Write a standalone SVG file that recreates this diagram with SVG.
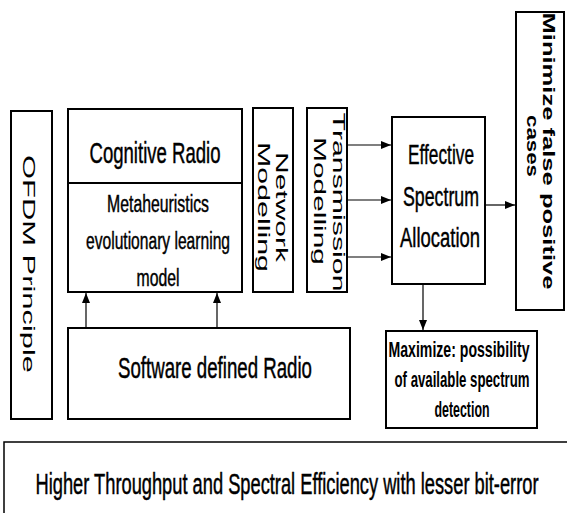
<svg xmlns="http://www.w3.org/2000/svg" width="567" height="513" viewBox="0 0 567 513">
<style>
.box{fill:#fff;stroke:#000;stroke-width:2}
.t{font-family:"Liberation Sans",Arial,sans-serif;fill:#000;text-anchor:middle}
.n{stroke:#000;stroke-width:0.3}
.b{font-weight:bold}
.c{stroke:#000;stroke-width:1.2;fill:none;marker-end:url(#ah)}
</style>
<defs>
<marker id="ah" markerUnits="userSpaceOnUse" markerWidth="10" markerHeight="8" refX="10" refY="4" orient="auto">
<path d="M0,0 L10,4 L0,8 Z" fill="#000"/>
</marker>
</defs>
<rect width="567" height="513" fill="#fff"/>
<g id="ofdm">
<rect class="box" x="11" y="111" width="41" height="308"/>
<text class="t" font-size="17" textLength="218" lengthAdjust="spacingAndGlyphs" transform="translate(23,264) rotate(90)">OFDM Principle</text>
</g>
<g id="cognitive">
<rect class="box" x="68" y="109" width="174" height="183"/>
<line x1="68" y1="183" x2="242" y2="183" stroke="#000" stroke-width="2"/>
<text class="t n" font-size="18.6" textLength="131" lengthAdjust="spacingAndGlyphs" transform="translate(155,163) scale(1,1.6)">Cognitive Radio</text>
<text class="t n" font-size="15.7" textLength="102" lengthAdjust="spacingAndGlyphs" transform="translate(158,212) scale(1,1.52)">Metaheuristics</text>
<text class="t n" font-size="15.7" textLength="144" lengthAdjust="spacingAndGlyphs" transform="translate(158,249) scale(1,1.52)">evolutionary learning</text>
<text class="t n" font-size="15.7" textLength="43" lengthAdjust="spacingAndGlyphs" transform="translate(158,286) scale(1,1.52)">model</text>
</g>
<g id="network">
<rect class="box" x="253" y="108" width="40" height="184"/>
<text class="t" font-size="17" textLength="110" lengthAdjust="spacingAndGlyphs" transform="translate(276,207) rotate(90)">Network</text>
<text class="t" font-size="17" textLength="130" lengthAdjust="spacingAndGlyphs" transform="translate(258,207) rotate(90)">Modelling</text>
</g>
<g id="transmission">
<rect class="box" x="307" y="108" width="40" height="184"/>
<text class="t" font-size="17" textLength="179" lengthAdjust="spacingAndGlyphs" transform="translate(333,202) rotate(90)">Transmission</text>
<text class="t" font-size="17" textLength="128" lengthAdjust="spacingAndGlyphs" transform="translate(314,201) rotate(90)">Modelling</text>
</g>
<g id="effective">
<rect class="box" x="392" y="117" width="93" height="167"/>
<text class="t n" font-size="17.8" textLength="66" lengthAdjust="spacingAndGlyphs" transform="translate(441,164) scale(1,1.57)">Effective</text>
<text class="t n" font-size="17.8" textLength="76" lengthAdjust="spacingAndGlyphs" transform="translate(441,206) scale(1,1.57)">Spectrum</text>
<text class="t n" font-size="17.8" textLength="80" lengthAdjust="spacingAndGlyphs" transform="translate(440,247) scale(1,1.57)">Allocation</text>
</g>
<g id="minimize">
<rect class="box" x="516" y="12" width="48" height="298"/>
<text class="t b" font-size="17" textLength="277" lengthAdjust="spacingAndGlyphs" transform="translate(543,151) rotate(90)">Minimize false positive</text>
<text class="t b" font-size="17" textLength="62" lengthAdjust="spacingAndGlyphs" transform="translate(527,146) rotate(90)">cases</text>
</g>
<g id="sdr">
<rect class="box" x="68" y="328" width="282" height="91"/>
<text class="t n" font-size="18.7" textLength="194" lengthAdjust="spacingAndGlyphs" transform="translate(215,378) scale(1,1.6)">Software defined Radio</text>
</g>
<g id="maximize">
<rect class="box" x="386" y="331" width="151" height="97"/>
<text class="t b" font-size="13.5" textLength="141" lengthAdjust="spacingAndGlyphs" transform="translate(459,357) scale(1,1.6)">Maximize: possibility</text>
<text class="t b" font-size="13.5" textLength="135" lengthAdjust="spacingAndGlyphs" transform="translate(462,387) scale(1,1.6)">of available spectrum</text>
<text class="t b" font-size="13.5" textLength="55" lengthAdjust="spacingAndGlyphs" transform="translate(462,417) scale(1,1.6)">detection</text>
</g>
<g id="throughput">
<rect x="4" y="442" width="600" height="100" fill="#fff" stroke="#000" stroke-width="1.5"/>
<text class="t n" font-size="18.2" textLength="503" lengthAdjust="spacingAndGlyphs" transform="translate(287,494) scale(1,1.65)">Higher Throughput and Spectral Efficiency with lesser bit-error</text>
</g>
<g id="connectors">
<line class="c" x1="86" y1="328" x2="86" y2="293"/>
<line class="c" x1="217" y1="328" x2="217" y2="293"/>
<line class="c" x1="347" y1="145" x2="391" y2="145"/>
<line class="c" x1="347" y1="200" x2="391" y2="200"/>
<line class="c" x1="347" y1="257" x2="391" y2="257"/>
<line class="c" x1="485" y1="205" x2="515" y2="205"/>
<line class="c" x1="423" y1="284" x2="423" y2="330"/>
</g>
</svg>
